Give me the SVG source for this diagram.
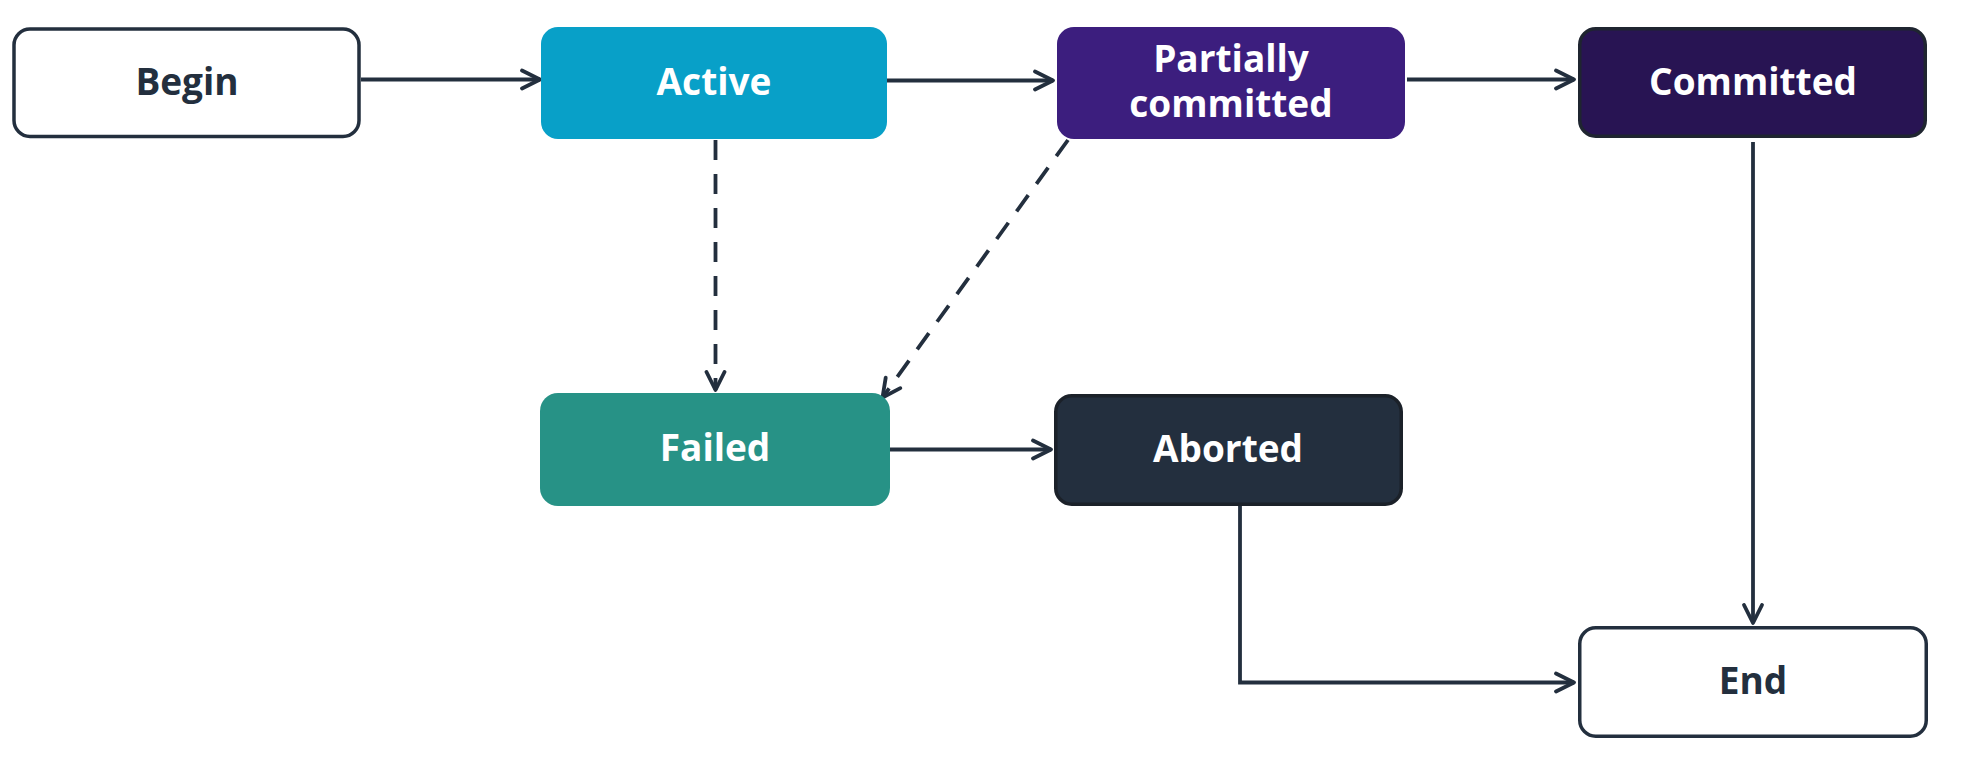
<svg xmlns="http://www.w3.org/2000/svg" width="1968" height="760" viewBox="0 0 1968 760">
  <defs>
    <style>
      .lbl { font-family: "Open Sans", "Noto Sans", "Liberation Sans", sans-serif; font-weight: 700; font-size: 37px; text-anchor: middle; }
      .light { fill: #FFFFFF; }
      .dark { fill: #232F3E; }
      .outline { fill: #FFFFFF; stroke: #232F3E; stroke-width: 3.5; }
      .conn { fill: none; stroke: #232F3E; stroke-width: 3.8; }
      .dash { stroke-dasharray: 20 14; }
    </style>
    <marker id="chev" markerUnits="userSpaceOnUse" viewBox="-22 -12 26 24" refX="0" refY="0" markerWidth="26" markerHeight="24" orient="auto">
      <path d="M -18 -9 L 0 0 L -18 9" fill="none" stroke="#232F3E" stroke-width="3.8" stroke-linecap="round" stroke-linejoin="round"/>
    </marker>
  </defs>
  <rect width="1968" height="760" fill="#FFFFFF"/>

  <g id="connectors">
    <path class="conn" d="M 361 79.5 L 540 79.5" marker-end="url(#chev)"/>
    <path class="conn" d="M 887 80.5 L 1053 80.5" marker-end="url(#chev)"/>
    <path class="conn" d="M 1407 79.5 L 1574 79.5" marker-end="url(#chev)"/>
    <path class="conn" d="M 1753 142 L 1753 623" marker-end="url(#chev)"/>
    <path class="conn dash" d="M 715.5 140 L 715.5 390" marker-end="url(#chev)"/>
    <path class="conn dash" d="M 1068 140 L 882.5 397.5" marker-end="url(#chev)"/>
    <path class="conn" d="M 889 449.5 L 1051 449.5" marker-end="url(#chev)"/>
    <path class="conn" d="M 1240 506 L 1240 682.5 L 1574 682.5" marker-end="url(#chev)"/>
  </g>

  <g id="node-begin">
    <rect class="outline" x="14" y="29" width="345" height="107.5" rx="16"/>
    <text class="lbl dark" x="187" y="95">Begin</text>
  </g>

  <g id="node-active">
    <rect x="541" y="27" width="346" height="112" rx="17" fill="#08A0C8"/>
    <text class="lbl light" x="714" y="95">Active</text>
  </g>

  <g id="node-partially-committed">
    <rect x="1057" y="27" width="348" height="112" rx="17" fill="#3C1E7E"/>
    <text class="lbl light" x="1231" y="72">Partially</text>
    <text class="lbl light" x="1231" y="117">committed</text>
  </g>

  <g id="node-committed">
    <rect x="1579.75" y="28.75" width="345.5" height="107.5" rx="16" fill="#281453" stroke="#1F2530" stroke-width="3.5"/>
    <text class="lbl light" x="1753" y="95">Committed</text>
  </g>

  <g id="node-failed">
    <rect x="540" y="393" width="350" height="113" rx="18" fill="#279286"/>
    <text class="lbl light" x="715" y="461">Failed</text>
  </g>

  <g id="node-aborted">
    <rect x="1055.75" y="395.75" width="345.5" height="108.5" rx="16" fill="#232F3E" stroke="#1B2129" stroke-width="3.5"/>
    <text class="lbl light" x="1228" y="462">Aborted</text>
  </g>

  <g id="node-end">
    <rect class="outline" x="1579.75" y="627.75" width="346.5" height="108.5" rx="16"/>
    <text class="lbl dark" x="1753" y="694">End</text>
  </g>
</svg>
